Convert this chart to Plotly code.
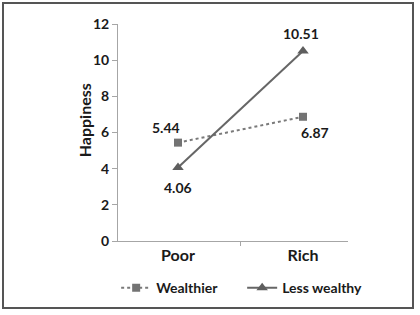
import plotly.graph_objects as go

categories = ["Poor", "Rich"]
wealthier = [5.44, 6.87]
less_wealthy = [4.06, 10.51]
y_ticks = [0, 2, 4, 6, 8, 10, 12]

FONT = "Lato, 'Open Sans', sans-serif"
TXT = "#1a1a1a"

fig = go.Figure()
fig.add_trace(go.Scatter(
    x=categories, y=wealthier, name="Wealthier", mode="lines+markers",
    line=dict(color="#7a7a7a", width=2, dash="dot"),
    marker=dict(symbol="square", size=8, color="#737373"),
))
fig.add_trace(go.Scatter(
    x=categories, y=less_wealthy, name="Less wealthy", mode="lines+markers",
    line=dict(color="#666666", width=2),
    marker=dict(symbol="triangle-up", size=10, color="#5e5e5e"),
))

# value labels
label_offsets = {
    ("Wealthier", 0): (-12, 15),
    ("Wealthier", 1): (12, -16),
    ("Less wealthy", 0): (0, -20),
    ("Less wealthy", 1): (-2, 17),
}
for name, vals in (("Wealthier", wealthier), ("Less wealthy", less_wealthy)):
    for i, v in enumerate(vals):
        dx, dy = label_offsets[(name, i)]
        fig.add_annotation(x=categories[i], y=v, text=f"{v:.2f}", showarrow=False,
                           xshift=dx, yshift=dy,
                           font=dict(family=FONT, size=14, color=TXT, weight="bold"))

# y-axis title
fig.add_annotation(xref="paper", yref="paper", x=-0.196, y=0.558, text="Happiness",
                   textangle=-90, showarrow=False,
                   font=dict(family=FONT, size=16, color=TXT, weight="bold"))

# outer frame
fig.add_shape(type="rect", xref="paper", yref="paper",
              x0=-0.5, x1=1.2826, y0=-0.3088, y1=1.0968,
              line=dict(color="#555555", width=2), layer="below")

fig.update_layout(
    width=420, height=315,
    margin=dict(l=118, r=72, t=24, b=74, autoexpand=False),
    paper_bgcolor="white", plot_bgcolor="white",
    font=dict(family=FONT, color=TXT),
    showlegend=True,
    legend=dict(orientation="h", x=-0.008, xanchor="left", y=-0.217, yanchor="middle",
                font=dict(family=FONT, size=14, color=TXT, weight="bold"),
                itemwidth=30, traceorder="normal",
                entrywidth=81, entrywidthmode="pixels"),
    xaxis=dict(type="category", range=[-0.48, 1.36], showgrid=False, automargin=False,
               showline=True, linecolor="#a6a6a6", linewidth=1,
               ticks="outside", tickson="boundaries", ticklen=4, tickcolor="#a6a6a6",
               tickfont=dict(family=FONT, size=16, color=TXT, weight="bold"),
               zeroline=False),
    yaxis=dict(range=[0, 12], tickvals=y_ticks, showgrid=False, zeroline=False, automargin=False,
               showline=True, linecolor="#a6a6a6", linewidth=1,
               ticks="outside", ticklen=5, tickcolor="#a6a6a6",
               tickfont=dict(family=FONT, size=14, color=TXT, weight="bold")),
)

fig.write_html(
    "out.html",
    config={"displayModeBar": False},
    post_script="document.body.style.margin='0';document.body.style.overflow='hidden';",
)
